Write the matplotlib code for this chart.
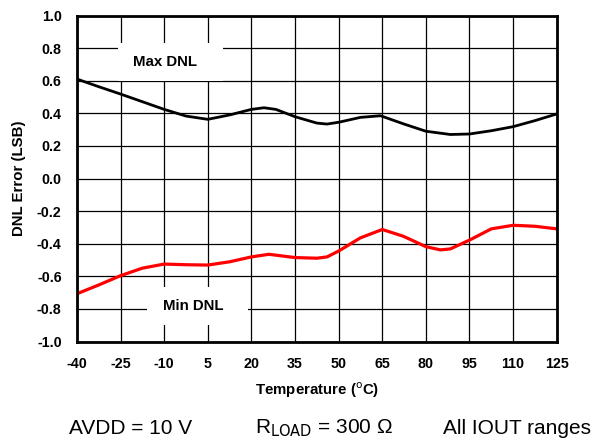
import matplotlib
matplotlib.use("Agg")
import matplotlib.pyplot as plt
from matplotlib.patches import Rectangle

# Temperatures (°C) at which the curves were read
temp_max = [-40, -32.5, -25, -17.5, -10, -2.5, 5, 12.5, 20, 24.3, 28.4, 35, 42.5,
            46, 50, 57.5, 64.4, 72.5, 80, 88.4, 95, 102.5, 110, 117.5, 125]
max_dnl = [0.610, 0.563, 0.518, 0.471, 0.424, 0.383, 0.363, 0.390, 0.424, 0.434, 0.424,
           0.379, 0.340, 0.334, 0.345, 0.375, 0.385, 0.334, 0.290, 0.270, 0.273, 0.293,
           0.318, 0.355, 0.396]

temp_min = [-40, -32.5, -25, -17.5, -10, -2.5, 5, 12.5, 20, 26, 35, 42.5,
            46, 50, 57.5, 65, 72.2, 80, 85, 88.4, 95, 102.5, 110, 117.5, 125]
min_dnl = [-0.707, -0.653, -0.596, -0.550, -0.525, -0.529, -0.531, -0.511, -0.481,
           -0.465, -0.485, -0.489, -0.481, -0.445, -0.364, -0.313, -0.354, -0.418,
           -0.438, -0.432, -0.378, -0.309, -0.287, -0.293, -0.309]

x_ticks = [-40, -25, -10, 5, 20, 35, 50, 65, 80, 95, 110, 125]
y_ticks = [-1.0, -0.8, -0.6, -0.4, -0.2, 0.0, 0.2, 0.4, 0.6, 0.8, 1.0]

plt.rcParams['font.family'] = ['Liberation Sans', 'DejaVu Sans']

fig = plt.figure(figsize=(6.08, 4.42), dpi=100)
ax = fig.add_axes([77/608, 1-341.5/442, (556.7-77)/608, (341.5-15.5)/442])

ax.set_xlim(-40, 125)
ax.set_ylim(-1.0, 1.0)
ax.set_xticks(x_ticks)
ax.set_yticks(y_ticks)
ax.set_xticklabels([str(t) for t in x_ticks], fontweight='bold', fontsize=10.3)
ax.set_yticklabels([f"{v:.1f}" for v in y_ticks], fontweight='bold', fontsize=10.3)
ax.tick_params(length=0, pad=11)
ax.grid(True, color='black', linewidth=0.9, zorder=1)
ax.set_axisbelow(True)
for s in ax.spines.values():
    s.set_linewidth(2.0)
    s.set_zorder(5)

ax.plot(temp_max, max_dnl, color='black', linewidth=2.0, zorder=4,
        solid_joinstyle='round')
ax.plot(temp_min, min_dnl, color='#ff0000', linewidth=2.3, zorder=4,
        solid_joinstyle='round')

# label boxes (white, hiding grid)
ax.add_patch(Rectangle((-25.9, 0.600), 36.0, 0.230, facecolor='white',
                       edgecolor='none', zorder=2))
ax.text(-9.8, 0.715, "Max DNL", ha='center', va='center', fontweight='bold',
        fontsize=10.8, zorder=3)
ax.add_patch(Rectangle((-16.0, -0.900), 34.8, 0.235, facecolor='white',
                       edgecolor='none', zorder=2))
ax.text(0.0, -0.782, "Min DNL", ha='center', va='center', fontweight='bold',
        fontsize=10.8, zorder=3)

ax.set_xlabel(r"Temperature ($^\mathrm{o}$C)", fontweight='bold', fontsize=10.8, labelpad=7)
ax.set_ylabel("DNL Error (LSB)", fontweight='bold', fontsize=10.8, labelpad=8)

fig.text(69/608, 1-428/442, "AVDD = 10 V", ha='left', va='center', fontsize=15)
fig.text(255/608, 1-428/442, r"R$_{\mathrm{LOAD}}$ = 300 Ω", ha='left', va='center', fontsize=15)
fig.text(443/608, 1-428/442, "All IOUT ranges", ha='left', va='center', fontsize=15)

fig.savefig("out.png", dpi=100)
